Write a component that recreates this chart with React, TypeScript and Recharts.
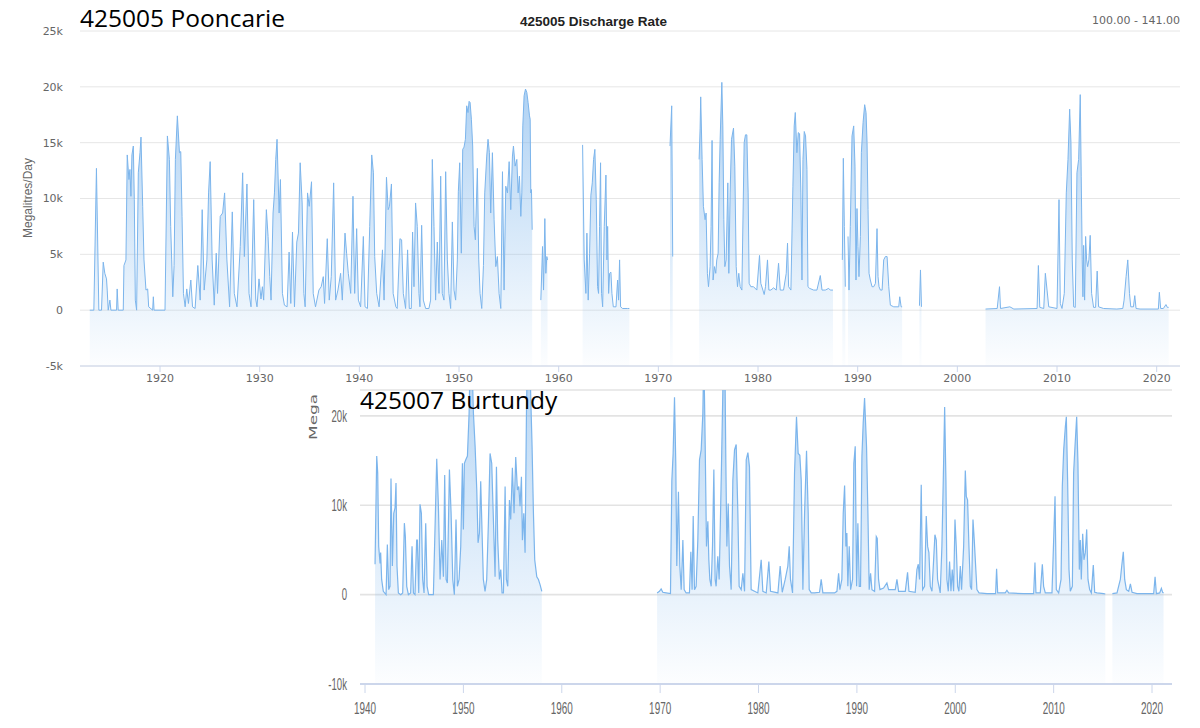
import React from 'react';
import { AreaChart, Area, XAxis, YAxis, CartesianGrid } from 'recharts';

type Pt = [number, number];

// 425005 Pooncarie, discharge in ML/day, [year, value]
const poon1913to1957: Pt[] = [
  [1912.95, 0], [1913.36, 0], [1913.62, 12700], [1913.86, 0], [1914.13, 0], [1914.3, 4300],
  [1914.46, 3300], [1914.63, 2800], [1914.7, 1800], [1914.8, 0], [1914.97, 900], [1915.07, 0],
  [1915.64, 0], [1915.7, 1900], [1915.8, 0], [1916.31, 0], [1916.38, 4000], [1916.58, 4500],
  [1916.71, 13900], [1916.88, 11700], [1916.98, 12600], [1917.08, 10200], [1917.18, 13900],
  [1917.32, 14700], [1917.42, 9900], [1917.52, 900], [1917.65, 0], [1917.82, 12300],
  [1917.99, 14100], [1918.09, 15500], [1918.26, 9300], [1918.39, 4500], [1918.59, 1800],
  [1918.76, 1900], [1918.86, 300], [1919.26, 0], [1919.33, 1200], [1919.4, 0], [1920.5, 0],
  [1920.74, 15600], [1920.94, 13500], [1921.07, 7500], [1921.17, 4500], [1921.28, 1200],
  [1921.41, 4000], [1921.54, 13500], [1921.74, 17400], [1921.95, 14100], [1922.08, 14200],
  [1922.21, 8400], [1922.35, 1500], [1922.52, 300], [1922.68, 1900], [1922.85, 600],
  [1923.09, 2700], [1923.26, 300], [1923.52, 150], [1923.79, 4000], [1924.03, 900],
  [1924.23, 9000], [1924.43, 1800], [1924.7, 4500], [1924.87, 10500], [1925.03, 13300],
  [1925.23, 4500], [1925.44, 450], [1925.64, 5100], [1925.77, 1500], [1926.04, 8400],
  [1926.28, 8700], [1926.48, 10500], [1926.71, 4500], [1926.98, 300], [1927.25, 8800],
  [1927.45, 1500], [1927.72, 300], [1928.05, 5700], [1928.29, 12300], [1928.46, 4800],
  [1928.72, 11300], [1928.93, 1500], [1929.13, 300], [1929.4, 9900], [1929.6, 1000],
  [1929.73, 300], [1929.93, 2800], [1930.13, 1000], [1930.27, 2100], [1930.4, 900],
  [1930.67, 9000], [1930.84, 6600], [1931.01, 3000], [1931.14, 900], [1931.34, 8700],
  [1931.48, 10500], [1931.61, 13500], [1931.74, 15300], [1931.95, 8700], [1932.08, 11700],
  [1932.28, 1500], [1932.48, 450], [1932.75, 300], [1932.95, 5200], [1933.12, 600],
  [1933.29, 7000], [1933.49, 300], [1933.72, 6100], [1933.89, 6900], [1934.06, 13200],
  [1934.26, 9600], [1934.43, 1500], [1934.56, 300], [1934.8, 10500], [1934.97, 9300],
  [1935.2, 11500], [1935.37, 1500], [1935.6, 300], [1935.94, 1800], [1936.17, 2100],
  [1936.38, 3000], [1936.51, 600], [1936.78, 6400], [1936.98, 900], [1937.18, 3000],
  [1937.42, 11400], [1937.62, 900], [1937.85, 1800], [1938.12, 3300], [1938.29, 900],
  [1938.56, 6900], [1938.72, 5100], [1938.89, 3300], [1939.13, 1500], [1939.36, 10200],
  [1939.53, 1500], [1939.73, 7300], [1939.9, 900], [1940.13, 300], [1940.4, 6600],
  [1940.57, 300], [1940.81, 150], [1941.04, 7500], [1941.24, 13900], [1941.41, 12300],
  [1941.54, 4800], [1941.74, 1500], [1941.98, 300], [1942.32, 5400], [1942.48, 900],
  [1942.72, 11900], [1942.89, 9000], [1943.02, 9300], [1943.22, 11300], [1943.39, 1500],
  [1943.66, 300], [1943.8, 150], [1944.07, 6400], [1944.24, 6300], [1944.41, 1500],
  [1944.64, 150], [1944.84, 5400], [1945.01, 150], [1945.21, 150], [1945.34, 7000],
  [1945.48, 2100], [1945.64, 9600], [1945.81, 7500], [1945.98, 1500], [1946.08, 300],
  [1946.25, 7600], [1946.42, 900], [1946.65, 150], [1946.98, 150], [1947.15, 900],
  [1947.32, 13500], [1947.49, 7500], [1947.65, 900], [1947.82, 6100], [1947.99, 1500],
  [1948.16, 12000], [1948.32, 1500], [1948.49, 900], [1948.66, 12400], [1948.83, 4500],
  [1948.99, 1500], [1949.16, 150], [1949.33, 7900], [1949.5, 1800], [1949.66, 900],
  [1949.83, 4500], [1949.93, 10600], [1950.07, 13200], [1950.23, 5100], [1950.37, 14400],
  [1950.5, 14600], [1950.64, 15300], [1950.77, 18300], [1950.9, 17700], [1951.01, 18700],
  [1951.11, 18600], [1951.24, 17100], [1951.37, 14700], [1951.51, 7500], [1951.64, 6300],
  [1951.84, 12700], [1951.98, 4500], [1952.11, 1500], [1952.28, 150], [1952.45, 4000],
  [1952.58, 10500], [1952.78, 13800], [1952.91, 15300], [1953.05, 14100], [1953.18, 8700],
  [1953.35, 14100], [1953.52, 8100], [1953.69, 3900], [1953.85, 4800], [1954.02, 1500],
  [1954.19, 150], [1954.36, 12400], [1954.52, 1800], [1954.69, 11100], [1954.86, 10500],
  [1955.03, 13300], [1955.19, 9000], [1955.36, 13800], [1955.46, 14700], [1955.63, 12900],
  [1955.8, 13500], [1955.93, 10500], [1956.06, 12000], [1956.2, 8400], [1956.3, 10500],
  [1956.4, 16500], [1956.53, 19200], [1956.67, 19800], [1956.8, 19500], [1956.93, 18600],
  [1957.07, 17400], [1957.14, 17100], [1957.2, 10500], [1957.27, 10800], [1957.34, 7200],
];
const poon1958: Pt[] = [
  [1958.21, 900], [1958.38, 5700], [1958.48, 1800], [1958.61, 8200], [1958.71, 3300],
  [1958.81, 4800], [1958.88, 4500],
];
const poon1962to1967: Pt[] = [
  [1962.4, 14800], [1962.56, 4500], [1962.73, 1500], [1962.83, 6900], [1962.96, 900],
  [1963.1, 5100], [1963.23, 10300], [1963.37, 11400], [1963.5, 13500], [1963.63, 14400],
  [1963.77, 9900], [1963.9, 2100], [1964.0, 1500], [1964.1, 7500], [1964.2, 13200],
  [1964.3, 1500], [1964.41, 300], [1964.57, 7500], [1964.74, 12100], [1964.84, 4500],
  [1964.91, 7500], [1965.01, 1500], [1965.11, 3300], [1965.24, 3400], [1965.34, 1500],
  [1965.48, 300], [1965.75, 300], [1965.91, 2700], [1966.01, 900], [1966.11, 4500],
  [1966.21, 300], [1966.41, 150], [1966.92, 150], [1967.09, 150],
];
const poon1971: Pt[] = [[1971.17, 14700], [1971.34, 18300], [1971.44, 4800]];
const poon1974to1987: Pt[] = [
  [1974.09, 13500], [1974.19, 16300], [1974.25, 19100], [1974.39, 13500], [1974.52, 9300],
  [1974.69, 8100], [1974.79, 8700], [1974.92, 3300], [1975.03, 2100], [1975.19, 3900],
  [1975.29, 7500], [1975.39, 15200], [1975.49, 2700], [1975.63, 3900], [1975.76, 3300],
  [1975.86, 4500], [1976.0, 5100], [1976.1, 11400], [1976.2, 15300], [1976.37, 20400],
  [1976.47, 16500], [1976.57, 8100], [1976.67, 3900], [1976.8, 4500], [1976.97, 11400],
  [1977.07, 3300], [1977.2, 10500], [1977.34, 15300], [1977.54, 16300], [1977.67, 12900],
  [1977.81, 3900], [1977.94, 2100], [1978.07, 3300], [1978.21, 2100], [1978.38, 1800],
  [1978.61, 15000], [1978.74, 15700], [1978.88, 15700], [1979.01, 10500], [1979.11, 2400],
  [1979.28, 2100], [1979.55, 2100], [1979.88, 1800], [1980.15, 4900], [1980.28, 2400],
  [1980.49, 1800], [1980.62, 1400], [1980.75, 2100], [1980.95, 4500], [1981.09, 1800],
  [1981.29, 1800], [1981.56, 2000], [1981.83, 1800], [1982.06, 4200], [1982.23, 1800],
  [1982.56, 1800], [1982.83, 3300], [1982.96, 6000], [1983.07, 2100], [1983.3, 1800],
  [1983.5, 11100], [1983.63, 16500], [1983.74, 17700], [1983.9, 14100], [1984.04, 15900],
  [1984.17, 15800], [1984.3, 10500], [1984.41, 2700], [1984.51, 13500], [1984.64, 16000],
  [1984.77, 15600], [1984.91, 12600], [1985.01, 2100], [1985.18, 1950], [1985.58, 1800],
  [1985.91, 1800], [1986.25, 3100], [1986.42, 1800], [1986.75, 1800], [1987.09, 1950],
  [1987.25, 1800], [1987.52, 1800],
];
const poon1988: Pt[] = [[1988.46, 4500], [1988.56, 13600], [1988.66, 7500], [1988.76, 2100]];
const poon1989to1994: Pt[] = [
  [1989.03, 6600], [1989.13, 1800], [1989.26, 7500], [1989.43, 15600], [1989.6, 16500],
  [1989.73, 12900], [1989.83, 2700], [1989.93, 9100], [1990.03, 5700], [1990.13, 3000],
  [1990.27, 6600], [1990.37, 14100], [1990.54, 16800], [1990.7, 18400], [1990.84, 17700],
  [1990.94, 15000], [1991.04, 9000], [1991.14, 3300], [1991.27, 2700], [1991.44, 2100],
  [1991.61, 2100], [1991.78, 2400], [1991.94, 7300], [1992.04, 3000], [1992.14, 2100],
  [1992.28, 1800], [1992.45, 1800], [1992.61, 4500], [1992.78, 4800], [1992.95, 4800],
  [1993.12, 2100], [1993.28, 450], [1993.62, 300], [1994.12, 300], [1994.22, 1200],
  [1994.36, 300], [1994.46, 300],
];
const poon1996: Pt[] = [[1996.2, 400], [1996.3, 3600], [1996.4, 300]];
const poon2003to2021: Pt[] = [
  [2002.83, 100], [2004.0, 150], [2004.23, 2100], [2004.33, 150], [2005.27, 300],
  [2005.67, 100], [2008.0, 150], [2008.13, 4000], [2008.27, 250], [2008.67, 150],
  [2008.83, 3300], [2009.0, 1800], [2009.17, 300], [2010.0, 150], [2010.2, 9900],
  [2010.33, 600], [2010.5, 150], [2010.73, 1500], [2010.93, 10500], [2011.1, 13500],
  [2011.27, 18000], [2011.4, 15000], [2011.53, 4500], [2011.67, 300], [2011.83, 250],
  [2012.0, 12300], [2012.17, 13500], [2012.33, 19300], [2012.43, 12000], [2012.53, 4500],
  [2012.6, 1200], [2012.67, 5800], [2012.77, 900], [2012.87, 6600], [2012.97, 4500],
  [2013.07, 3900], [2013.2, 4500], [2013.33, 6700], [2013.47, 1500], [2013.67, 250],
  [2013.87, 250], [2014.03, 3500], [2014.17, 300], [2014.67, 150], [2016.0, 100],
  [2016.6, 150], [2016.73, 900], [2016.93, 3000], [2017.1, 4500], [2017.27, 1500],
  [2017.4, 300], [2017.67, 300], [2017.8, 1300], [2017.93, 150], [2018.33, 100],
  [2020.17, 100], [2020.27, 1600], [2020.4, 150], [2020.67, 150], [2020.93, 500],
  [2021.07, 250], [2021.2, 250],
];

// 425007 Burtundy, discharge in ML/day (peaks above the cropped top run off the plot)
const burt1941to1958: Pt[] = [
  [1941.02, 3400], [1941.19, 15500], [1941.29, 13600], [1941.39, 5400], [1941.53, 3500],
  [1941.59, 4700], [1941.69, 1700], [1941.86, 370], [1942.14, 0], [1942.27, 5600],
  [1942.41, 560], [1942.54, 930], [1942.64, 13000], [1942.78, 3200], [1942.92, 9100],
  [1943.05, 9700], [1943.15, 12500], [1943.25, 3200], [1943.39, 190], [1943.63, 0],
  [1943.83, 190], [1944.0, 8000], [1944.1, 6500], [1944.24, 930], [1944.41, 0],
  [1944.64, 190], [1944.78, 5400], [1944.92, 190], [1945.08, 0], [1945.25, 6100],
  [1945.32, 6100], [1945.46, 190], [1945.59, 10100], [1945.73, 9100], [1945.86, 1700],
  [1946.0, 190], [1946.17, 8000], [1946.31, 930], [1946.47, 0], [1946.95, 0],
  [1947.29, 15200], [1947.46, 9900], [1947.63, 1700], [1947.8, 6100], [1947.97, 2000],
  [1948.1, 13400], [1948.24, 1700], [1948.37, 1300], [1948.58, 14000], [1948.75, 9100],
  [1948.92, 1700], [1949.08, 0], [1949.25, 8400], [1949.39, 930], [1949.56, 1700],
  [1949.73, 5400], [1949.9, 14700], [1950.0, 7300], [1950.1, 14700], [1950.24, 15100],
  [1950.41, 15500], [1950.58, 20300], [1950.68, 26000], [1950.85, 27000], [1951.02, 20300],
  [1951.19, 16600], [1951.36, 11700], [1951.49, 5800], [1951.63, 6900], [1951.76, 12700],
  [1951.9, 6900], [1952.03, 1700], [1952.2, 370], [1952.37, 1700], [1952.54, 8000],
  [1952.71, 15800], [1952.88, 14700], [1953.05, 8400], [1953.22, 2000], [1953.36, 14300],
  [1953.49, 6100], [1953.66, 1700], [1953.8, 2800], [1953.93, 190], [1954.07, 190],
  [1954.24, 12100], [1954.37, 1700], [1954.51, 930], [1954.68, 10600], [1954.81, 8400],
  [1954.98, 14200], [1955.15, 9100], [1955.32, 15400], [1955.49, 11700], [1955.63, 12100],
  [1955.76, 9900], [1955.9, 13200], [1956.0, 6100], [1956.14, 9100], [1956.27, 4700],
  [1956.41, 20300], [1956.51, 27000], [1956.71, 28000], [1956.85, 22000], [1956.98, 16600],
  [1957.12, 9100], [1957.25, 3900], [1957.46, 2000], [1957.63, 1700], [1957.8, 1100],
  [1957.97, 370],
];
const burt1970to2015: Pt[] = [
  [1969.69, 190], [1969.93, 370], [1970.1, 630], [1970.27, 260], [1970.61, 190],
  [1971.05, 110], [1971.19, 12800], [1971.32, 15800], [1971.46, 22100], [1971.59, 14700],
  [1971.69, 3200], [1971.86, 11500], [1972.0, 3200], [1972.14, 560], [1972.31, 6100],
  [1972.44, 560], [1972.64, 190], [1972.98, 190], [1973.12, 4800], [1973.25, 560],
  [1973.36, 8800], [1973.49, 560], [1973.66, 930], [1973.83, 6100], [1974.0, 15100],
  [1974.17, 16200], [1974.34, 20300], [1974.41, 25000], [1974.47, 25000], [1974.58, 16600],
  [1974.71, 5400], [1974.85, 8200], [1974.95, 3900], [1975.05, 1700], [1975.19, 930],
  [1975.32, 5400], [1975.46, 14000], [1975.59, 1700], [1975.69, 930], [1975.86, 4300],
  [1976.0, 1700], [1976.14, 9100], [1976.27, 16600], [1976.41, 25000], [1976.58, 26000],
  [1976.68, 14700], [1976.78, 5400], [1976.92, 10200], [1977.05, 3200], [1977.22, 560],
  [1977.39, 12800], [1977.56, 16200], [1977.73, 16800], [1977.9, 9100], [1978.03, 930],
  [1978.24, 560], [1978.41, 2400], [1978.58, 370], [1978.75, 15100], [1978.92, 15900],
  [1979.08, 14300], [1979.25, 560], [1979.59, 370], [1979.93, 190], [1980.27, 3900],
  [1980.44, 370], [1980.78, 190], [1981.05, 3700], [1981.22, 370], [1981.97, 190],
  [1982.2, 3200], [1982.41, 260], [1982.71, 1700], [1982.98, 3200], [1983.12, 5400],
  [1983.25, 1700], [1983.46, 190], [1983.66, 13600], [1983.86, 19900], [1984.03, 15800],
  [1984.2, 15600], [1984.34, 12800], [1984.51, 560], [1984.68, 9100], [1984.88, 16100],
  [1985.05, 9100], [1985.15, 560], [1985.36, 190], [1985.69, 190], [1986.2, 260],
  [1986.37, 1700], [1986.54, 190], [1987.73, 190], [1987.97, 370], [1988.14, 2400],
  [1988.27, 560], [1988.47, 1700], [1988.61, 9100], [1988.75, 12200], [1988.88, 5400],
  [1988.98, 6900], [1989.08, 930], [1989.22, 5400], [1989.36, 560], [1989.56, 1700],
  [1989.69, 14700], [1989.83, 16600], [1989.97, 930], [1990.1, 8000], [1990.24, 930],
  [1990.37, 930], [1990.51, 15500], [1990.64, 19200], [1990.78, 22000], [1990.98, 16600],
  [1991.12, 9100], [1991.25, 560], [1991.39, 2400], [1991.53, 560], [1991.8, 370],
  [1991.97, 6500], [1992.07, 6300], [1992.2, 1700], [1992.34, 560], [1992.71, 740],
  [1993.05, 1300], [1993.22, 560], [1993.9, 560], [1994.07, 1700], [1994.24, 370],
  [1994.92, 370], [1995.15, 2500], [1995.29, 370], [1995.93, 260], [1996.1, 2800],
  [1996.24, 3400], [1996.37, 1700], [1996.54, 12300], [1996.68, 560], [1996.88, 930],
  [1997.05, 8800], [1997.19, 5400], [1997.32, 4700], [1997.46, 930], [1997.63, 370],
  [1997.8, 3900], [1997.93, 6700], [1998.07, 6100], [1998.2, 1700], [1998.34, 930],
  [1998.47, 190], [1998.64, 5400], [1998.78, 12800], [1998.92, 21000], [1999.05, 12800],
  [1999.15, 1700], [1999.29, 370], [1999.42, 3700], [1999.56, 370], [1999.69, 2800],
  [1999.83, 370], [1999.97, 8400], [2000.1, 5400], [2000.24, 930], [2000.37, 370],
  [2000.51, 3200], [2000.64, 560], [2000.85, 5400], [2001.02, 13900], [2001.12, 11000],
  [2001.25, 10600], [2001.39, 5400], [2001.53, 930], [2001.66, 560], [2001.8, 8400],
  [2001.93, 6100], [2002.07, 3200], [2002.2, 560], [2002.41, 190], [2003.22, 110],
  [2004.1, 110], [2004.2, 2900], [2004.31, 190], [2005.08, 190], [2005.25, 490],
  [2005.42, 190], [2006.95, 110], [2007.97, 110], [2008.1, 3600], [2008.2, 190],
  [2008.64, 190], [2008.85, 3400], [2008.98, 930], [2009.15, 190], [2009.83, 190],
  [2010.14, 11000], [2010.27, 560], [2010.51, 190], [2010.75, 1700], [2010.88, 12100],
  [2011.02, 16200], [2011.19, 18800], [2011.29, 19900], [2011.42, 12800], [2011.56, 2800],
  [2011.69, 370], [2011.9, 930], [2012.03, 13600], [2012.17, 16600], [2012.34, 19900],
  [2012.47, 14700], [2012.61, 2800], [2012.71, 6100], [2012.81, 1700], [2012.95, 6800],
  [2013.08, 3900], [2013.22, 4700], [2013.36, 7300], [2013.49, 1700], [2013.66, 560],
  [2013.83, 190], [2014.03, 3300], [2014.17, 260], [2014.41, 190], [2015.08, 110],
  [2015.25, 70],
];
const burt2016to2021: Pt[] = [
  [2015.97, 110], [2016.44, 190], [2016.64, 1100], [2016.78, 1700], [2016.92, 3200],
  [2017.08, 4800], [2017.22, 1700], [2017.39, 560], [2017.63, 370], [2017.8, 1200],
  [2017.97, 260], [2018.47, 110], [2019.49, 110], [2020.17, 110], [2020.31, 2000],
  [2020.44, 110], [2020.78, 190], [2020.95, 700], [2021.08, 260], [2021.17, 190],
];

const poonSegments = [
  poon1913to1957, poon1958, poon1962to1967, poon1971, poon1974to1987,
  poon1988, poon1989to1994, poon1996, poon2003to2021,
];
const burtSegments = [burt1941to1958, burt1970to2015, burt2016to2021];

const poonYTicks = [-5000, 0, 5000, 10000, 15000, 20000, 25000];
const burtYTicks = [-10000, 0, 10000, 20000];
const poonYearTicks = [1920, 1930, 1940, 1950, 1960, 1970, 1980, 1990, 2000, 2010, 2020];
const burtYearTicks = [1940, 1950, 1960, 1970, 1980, 1990, 2000, 2010, 2020];

// segments are joined with a null row so the line and fill break in the gaps
function joinSegments(segs: Pt[][]) {
  const rows: { t: number; v: number | null }[] = [];
  segs.forEach((seg, i) => {
    if (i > 0) {
      const prev = segs[i - 1];
      rows.push({ t: (prev[prev.length - 1][0] + seg[0][0]) / 2, v: null });
    }
    seg.forEach(([t, v]) => rows.push({ t, v }));
  });
  return rows;
}

const poonData = joinSegments(poonSegments);
const burtData = joinSegments(burtSegments);

const kFormat = (v: number) => (v === 0 ? '0' : `${v / 1000}k`);

const LINE = '#7cb5ec';
const narrow = "'Liberation Sans', Arial, sans-serif";

// the lower screenshot is squeezed sideways, so its labels are drawn narrow
function NarrowXTick(props: any) {
  const { x, y, payload } = props;
  return (
    <text transform={`translate(${x},${y}) scale(0.62,1)`} textAnchor="middle" dy="0.71em"
      fontSize={16} fontFamily={narrow} fill="#666">
      {payload.value}
    </text>
  );
}

function NarrowYTick(props: any) {
  const { x, y, payload } = props;
  return (
    <text transform={`translate(${x},${y}) scale(0.6,1)`} textAnchor="end" dy="0.36em"
      fontSize={16} fontFamily={narrow} fill="#666">
      {kFormat(payload.value)}
    </text>
  );
}

export default function App() {
  const tickStyle = { fill: '#666', fontSize: 11, fontFamily: "'DejaVu Sans', sans-serif" };
  return (
    <div style={{ position: 'absolute', left: 0, top: 0, width: 1200, height: 728, background: '#fff', overflow: 'hidden' }}>
      <div style={{ position: 'absolute', left: 0, top: 0 }}>
        <AreaChart width={1200} height={400} data={poonData} margin={{ top: 31, right: 20, bottom: 4, left: 0 }}>
          <defs>
            <linearGradient id="poonFill" x1="0" y1="0" x2="0" y2="1">
              <stop offset="0%" stopColor={LINE} stopOpacity={0.62} />
              <stop offset="100%" stopColor={LINE} stopOpacity={0.02} />
            </linearGradient>
          </defs>
          <CartesianGrid vertical={false} stroke="#e6e6e6" />
          <XAxis dataKey="t" type="number" domain={[1911.97, 2022.34]} ticks={poonYearTicks} interval={0}
            height={30} axisLine={{ stroke: '#ccd6eb' }} tickLine={{ stroke: '#ccd6eb' }}
            tickSize={6} tickMargin={2} tick={tickStyle} />
          <YAxis type="number" domain={[-5000, 25000]} ticks={poonYTicks} interval={0} width={80}
            axisLine={false} tickLine={false} tickSize={6} tickMargin={11}
            tickFormatter={kFormat} tick={tickStyle} />
          <Area type="linear" dataKey="v" stroke={LINE} strokeWidth={1} fill="url(#poonFill)" fillOpacity={1}
            baseValue={-5000} connectNulls={false} dot={false} activeDot={false} isAnimationActive={false} />
        </AreaChart>
      </div>

      <div style={{ position: 'absolute', left: 0, top: 380 }}>
        <AreaChart width={1200} height={348} data={burtData} margin={{ top: 10, right: 28, bottom: 4, left: 280 }}>
          <defs>
            <linearGradient id="burtFill" x1="0" y1="0" x2="0" y2="1">
              <stop offset="0%" stopColor={LINE} stopOpacity={0.6} />
              <stop offset="100%" stopColor={LINE} stopOpacity={0.02} />
            </linearGradient>
          </defs>
          <CartesianGrid vertical={false} stroke="#e3e3e3" strokeWidth={1.6} />
          <XAxis dataKey="t" type="number" domain={[1939.49, 2022.03]} ticks={burtYearTicks} interval={0}
            height={40} axisLine={{ stroke: '#ccd6eb', strokeWidth: 2 }} tickLine={{ stroke: '#ccd6eb' }}
            tickSize={9} tickMargin={10} tick={<NarrowXTick />} />
          <YAxis type="number" domain={[-10000, 22900]} allowDataOverflow ticks={burtYTicks} interval={0} width={80}
            axisLine={false} tickLine={false} tickSize={6} tickMargin={7} tick={<NarrowYTick />} />
          <Area type="linear" dataKey="v" stroke={LINE} strokeWidth={1.2} fill="url(#burtFill)" fillOpacity={1}
            baseValue={-10000} connectNulls={false} dot={false} activeDot={false} isAnimationActive={false} />
        </AreaChart>
      </div>

      <svg width={1200} height={728} style={{ position: 'absolute', left: 0, top: 0, pointerEvents: 'none' }}>
        <text x={80} y={26.5} fontSize={24.5} fontFamily="'Open Sans', sans-serif" fill="#000">425005 Pooncarie</text>
        <text x={520} y={25.5} fontSize={13.5} fontWeight="bold" fontFamily={narrow} fill="#222">425005 Discharge Rate</text>
        <text x={1180} y={24} textAnchor="end" fontSize={11} fontFamily="'DejaVu Sans', sans-serif" fill="#666">100.00 - 141.00</text>
        <text transform="translate(31.5,198) rotate(-90)" textAnchor="middle" fontSize={12} fontFamily={narrow} fill="#666">Megalitres/Day</text>
        <text x={360} y={408.5} fontSize={24.5} fontFamily="'Open Sans', sans-serif" fill="#000">425007 Burtundy</text>
        <text transform="translate(316.5,440) scale(0.6,1) rotate(-90)" fontSize={17} fontFamily="'DejaVu Sans', sans-serif" fill="#666">Mega</text>
      </svg>
    </div>
  );
}
